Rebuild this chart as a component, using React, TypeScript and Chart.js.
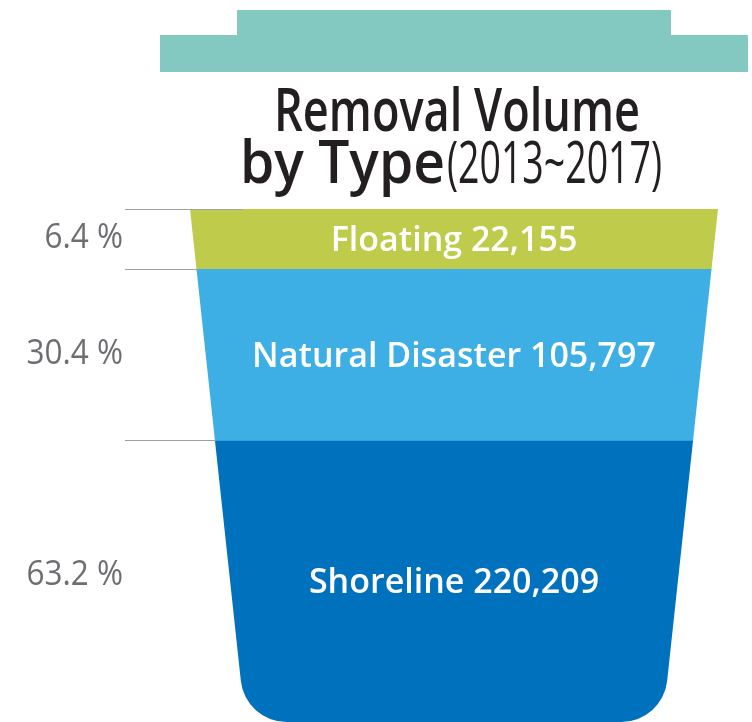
import React, { useEffect, useRef } from 'react';
import { Chart, registerables } from 'chart.js';

Chart.register(...registerables);

// ---- data ----
const categories = ['Floating', 'Natural Disaster', 'Shoreline'];
const volumes = [22155, 105797, 220209];
const volumeLabels = ['22,155', '105,797', '220,209'];
const percentLabels = ['6.4 %', '30.4 %', '63.2 %'];
const titleLine1 = 'Removal Volume';
const titleLine2Bold = 'by Type';
const titleLine2Light = '(2013~2017)';

// ---- style ----
const segmentColors = ['#BFCB4A', '#3DAFE5', '#0071BC'];
const LID_COLOR = '#83C9C2';
const TITLE_COLOR = '#231F20';
const PERCENT_COLOR = '#6D6E71';
const GUIDE_COLOR = '#A0A0A0';
const DISPLAY_EXPONENT = 0.675; // stylised (compressed) segment heights
const SIDE_SLOPE = 0.1078;
const CORNER_RADIUS = 46;
const FONT = '"Open Sans", "Noto Sans", sans-serif';

const displayValues = volumes.map((v) => Math.pow(v, DISPLAY_EXPONENT));
const displayTotal = displayValues.reduce((a, b) => a + b, 0);

function drawFitted(
  ctx: CanvasRenderingContext2D,
  text: string,
  x: number,
  baseline: number,
  width: number,
  font: string,
  color: string
) {
  ctx.save();
  ctx.font = font;
  const m = ctx.measureText(text).width;
  ctx.translate(x, baseline);
  ctx.scale(width / m, 1);
  ctx.textAlign = 'left';
  ctx.textBaseline = 'alphabetic';
  ctx.fillStyle = color;
  ctx.fillText(text, 0, 0);
  ctx.restore();
}

function drawScaled(
  ctx: CanvasRenderingContext2D,
  text: string,
  x: number,
  baseline: number,
  sx: number,
  font: string,
  color: string,
  align: CanvasTextAlign
) {
  ctx.save();
  ctx.font = font;
  ctx.translate(x, baseline);
  ctx.scale(sx, 1);
  ctx.textAlign = align;
  ctx.textBaseline = 'alphabetic';
  ctx.fillStyle = color;
  ctx.fillText(text, 0, 0);
  ctx.restore();
}

function canPath(ctx: CanvasRenderingContext2D, a: { left: number; right: number; top: number; bottom: number }) {
  const inset = SIDE_SLOPE * (a.bottom - a.top);
  ctx.beginPath();
  ctx.moveTo(a.left, a.top);
  ctx.lineTo(a.right, a.top);
  ctx.arcTo(a.right - inset, a.bottom, a.left + inset, a.bottom, CORNER_RADIUS);
  ctx.arcTo(a.left + inset, a.bottom, a.left, a.top, CORNER_RADIUS);
  ctx.closePath();
}

const canPlugin = {
  id: 'trashCan',
  beforeDraw(chart: any) {
    const ctx: CanvasRenderingContext2D = chart.ctx;
    const a = chart.chartArea;
    const cx = (a.left + a.right) / 2;
    ctx.save();
    ctx.fillStyle = '#FFFFFF';
    ctx.fillRect(0, 0, chart.width, chart.height);
    // lid
    ctx.fillStyle = LID_COLOR;
    ctx.fillRect(cx - 217, 10, 434, 26);
    ctx.fillRect(cx - 294, 35, 588, 37);
    ctx.restore();
    // title
    drawFitted(ctx, titleLine1, 274, 131, 366, `600 60px ${FONT}`, TITLE_COLOR);
    drawFitted(ctx, titleLine2Bold, 240, 183, 205, `600 60px ${FONT}`, TITLE_COLOR);
    drawFitted(ctx, titleLine2Light, 447, 183, 215, `400 58px ${FONT}`, TITLE_COLOR);
  },
  beforeDatasetsDraw(chart: any) {
    const ctx: CanvasRenderingContext2D = chart.ctx;
    ctx.save();
    canPath(ctx, chart.chartArea);
    ctx.clip();
  },
  afterDatasetsDraw(chart: any) {
    const ctx: CanvasRenderingContext2D = chart.ctx;
    ctx.restore();
    const a = chart.chartArea;
    const y = chart.scales.y;
    const cx = (a.left + a.right) / 2;
    let cum = 0;
    const bounds: number[] = [y.getPixelForValue(0)];
    displayValues.forEach((v) => {
      cum += v;
      bounds.push(y.getPixelForValue(cum));
    });
    // guide lines
    ctx.save();
    ctx.strokeStyle = GUIDE_COLOR;
    ctx.lineWidth = 1.2;
    for (let i = 0; i < bounds.length - 1; i++) {
      const py = Math.round(bounds[i]) + 0.5;
      const edge = a.left + SIDE_SLOPE * (py - a.top);
      ctx.beginPath();
      ctx.moveTo(125, py);
      ctx.lineTo(i === 0 ? edge + 52 : edge + 1, py);
      ctx.stroke();
    }
    ctx.restore();
    // labels
    for (let i = 0; i < categories.length; i++) {
      const mid = (bounds[i] + bounds[i + 1]) / 2;
      drawScaled(ctx, `${categories[i]} ${volumeLabels[i]}`, cx, mid + 12, 1.0, `600 34px ${FONT}`, '#FFFFFF', 'center');
      const pOff = i === 2 ? -8 : -3;
      drawScaled(ctx, percentLabels[i], 123, mid + 12 + pOff, 0.9, `400 35px ${FONT}`, PERCENT_COLOR, 'right');
    }
  },
};

export default function App() {
  const ref = useRef<HTMLCanvasElement | null>(null);
  useEffect(() => {
    if (!ref.current) return;
    const chart = new Chart(ref.current, {
      type: 'bar',
      data: {
        labels: ['Removal Volume'],
        datasets: categories.map((c, i) => ({
          label: c,
          data: [displayValues[i]],
          backgroundColor: segmentColors[i],
          borderWidth: 0,
          barPercentage: 1,
          categoryPercentage: 1,
        })),
      },
      options: {
        animation: false,
        responsive: false,
        events: [],
        layout: { padding: { left: 190, right: 34, top: 209, bottom: 0 } },
        plugins: { legend: { display: false }, tooltip: { enabled: false }, title: { display: false } },
        scales: {
          x: { stacked: true, display: false },
          y: { stacked: true, display: false, reverse: true, min: 0, max: displayTotal },
        },
      },
      plugins: [canPlugin],
    });
    return () => chart.destroy();
  }, []);
  return (
    <div style={{ position: 'fixed', left: 0, top: 0, width: 752, height: 722, background: '#fff' }}>
      <canvas ref={ref} width={752} height={722} style={{ width: 752, height: 722, display: 'block' }} />
    </div>
  );
}
